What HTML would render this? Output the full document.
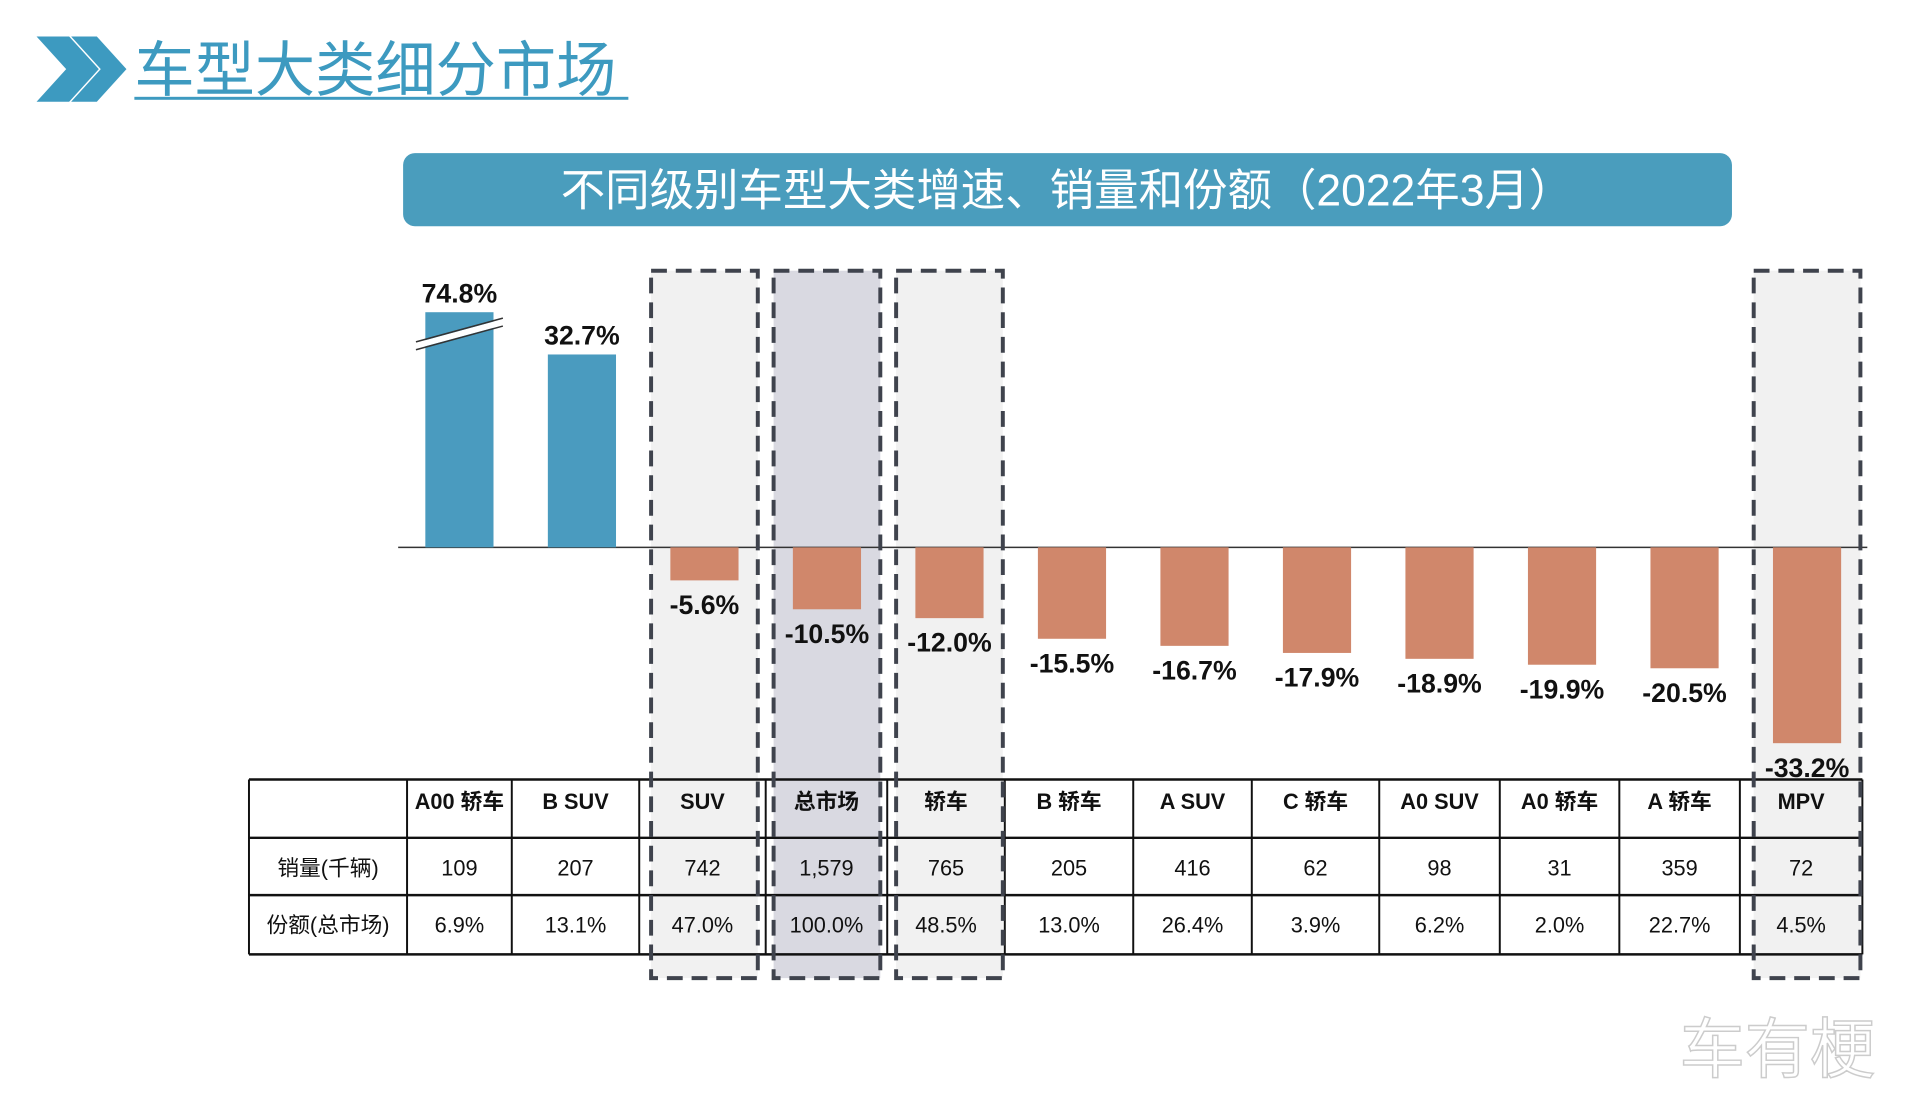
<!DOCTYPE html>
<html><head><meta charset="utf-8"><style>
html,body{margin:0;padding:0;background:#fff;}
svg{display:block;font-family:"Liberation Sans","Noto Sans CJK SC",sans-serif;}
.tb{font-family:"Liberation Sans Narrow","Liberation Sans","Noto Sans CJK SC",sans-serif;}
</style></head><body>
<svg id="c" width="1920" height="1120" viewBox="0 0 1920 1120" xmlns="http://www.w3.org/2000/svg">
<g transform="scale(0.988)">
<g>
<polygon points="37,37 70,37 100,70 70,103 37,103 67,70" fill="#3d9ac0"/>
<polygon points="72,37 98,37 128,70 98,103 72,103 102,70" fill="#3d9ac0"/>
</g>
<text x="136" y="92" font-size="61" fill="#3d9ac0" font-family="'Liberation Sans','Noto Sans CJK SC',sans-serif">车型大类细分市场</text>
<rect x="136" y="98" width="500" height="3" fill="#3d9ac0"/>
<rect x="408" y="155" width="1345" height="74" rx="12" fill="#4a9dbd"/>
<text x="1080" y="208" font-size="45" fill="#fff" text-anchor="middle">不同级别车型大类增速、销量和份额（2022年3月）</text>
<g id="boxes"></g>
<g id="bars"></g>
<g id="table"></g>
<g id="dash"></g>
<text x="1700" y="1085" font-size="66" fill="#fff" stroke="#ccc" stroke-width="1.5" text-anchor="start">车有梗</text>
</g>
</svg>
<script>
const categories=["A00 轿车","B SUV","SUV","总市场","轿车","B 轿车","A SUV","C 轿车","A0 SUV","A0 轿车","A 轿车","MPV"];
const growth=[74.8,32.7,-5.6,-10.5,-12.0,-15.5,-16.7,-17.9,-18.9,-19.9,-20.5,-33.2];
const growthLabels=["74.8%","32.7%","-5.6%","-10.5%","-12.0%","-15.5%","-16.7%","-17.9%","-18.9%","-19.9%","-20.5%","-33.2%"];
const sales=["109","207","742","1,579","765","205","416","62","98","31","359","72"];
const shares=["6.9%","13.1%","47.0%","100.0%","48.5%","13.0%","26.4%","3.9%","6.2%","2.0%","22.7%","4.5%"];
const highlighted=["SUV","总市场","轿车","MPV"];
const rowLabels=["销量(千辆)","份额(总市场)"];

const NS="http://www.w3.org/2000/svg";
function mk(tag,attrs,parent,txt){const e=document.createElementNS(NS,tag);for(const k in attrs)e.setAttribute(k,attrs[k]);if(txt!==undefined)e.textContent=txt;parent.appendChild(e);return e;}
const zeroY=554,k=5.97,capH=238;
const xc=i=>465+i*124;
const yv=v=>zeroY-v*k;
const bw=69;
const boxes=document.getElementById('boxes'),bars=document.getElementById('bars'),table=document.getElementById('table'),dash=document.getElementById('dash');
categories.forEach((c,i)=>{
  if(highlighted.indexOf(c)<0)return;
  const x=xc(i)-54,w=108;
  const r=mk('rect',{x:x,y:274,width:w,height:716,fill:c==="总市场"?"#d9d9e1":"#f1f1f1"},boxes);
  
  
  const d=mk('rect',{x:x,y:274,width:w,height:716,fill:"none",stroke:"#3f434d","stroke-width":4,"stroke-dasharray":"16 9"},dash);
  
  
});
const zl=mk('line',{x1:403,x2:1890,y1:zeroY,y2:zeroY,stroke:"#333","stroke-width":1.5},bars);


growth.forEach((v,i)=>{
  let h=Math.abs(v)*k; const broken=h>capH; if(broken)h=capH;
  const y=v>=0?zeroY-h:zeroY;
  const b=mk('rect',{x:xc(i)-bw/2,y:y,width:bw,height:h,fill:v>=0?"#4a9bbf":"#d0876b"},bars);
  
  
  if(broken){
    const g=mk('g',{},bars);
    
    
    mk('line',{x1:xc(i)-44,y1:y+34,x2:xc(i)+44,y2:y+10,stroke:"#fff","stroke-width":6},g);
    mk('line',{x1:xc(i)-44,y1:y+38,x2:xc(i)+44,y2:y+14,stroke:"#333","stroke-width":1.5},g);
    mk('line',{x1:xc(i)-44,y1:y+30,x2:xc(i)+44,y2:y+6,stroke:"#333","stroke-width":1.5},g);
  }
  const ly=v>=0?y-10:y+h+34;
  const t=mk('text',{x:xc(i),y:ly,"font-size":27,"font-weight":"bold","text-anchor":"middle",fill:"#111"},bars,growthLabels[i]);
  
  
});
const colB=[252,412,518,647,775,898,1017,1147,1267,1396,1518,1639,1761,1885];
const rowB=[789,848,906,966];
colB.forEach((x,j)=>{const l=mk('line',{x1:x,x2:x,y1:rowB[0],y2:rowB[3],stroke:"#111","stroke-width":2},table);});
rowB.forEach(y=>{const l=mk('line',{x1:colB[0],x2:colB[13],y1:y,y2:y,stroke:"#111","stroke-width":2.5},table);});
rowLabels.forEach((s,r)=>{const t=mk('text',{x:(colB[0]+colB[1])/2,y:rowB[r+1]+38,"font-size":22,"text-anchor":"middle",fill:"#111",class:"tb"},table,s);});
categories.forEach((c,i)=>{
  const cx=(colB[i+1]+colB[i+2])/2;
  const h=mk('text',{x:cx,y:rowB[0]+30,"font-size":22,"font-weight":"bold","text-anchor":"middle",fill:"#111",class:"tb"},table,c);
  
  
  const s=mk('text',{x:cx,y:rowB[1]+38,"font-size":22,"text-anchor":"middle",fill:"#111",class:"tb"},table,sales[i]);
  
  
  const p=mk('text',{x:cx,y:rowB[2]+38,"font-size":22,"text-anchor":"middle",fill:"#111",class:"tb"},table,shares[i]);
  
  
});
</script>
</body></html>
